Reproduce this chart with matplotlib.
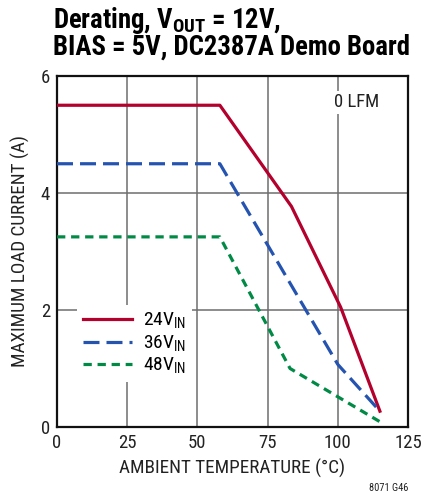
import matplotlib
matplotlib.use("Agg")
import matplotlib.pyplot as plt

plt.rcParams['font.family'] = ['Roboto Condensed', 'Archivo Narrow', 'DejaVu Sans']
plt.rcParams['mathtext.fontset'] = 'custom'
plt.rcParams['mathtext.rm'] = 'Roboto Condensed'
plt.rcParams['mathtext.bf'] = 'Roboto Condensed:bold'

# data
temp_24 = [0, 58, 83.5, 101, 115]
iout_24 = [5.5, 5.5, 3.77, 2.05, 0.27]
temp_36 = [0, 58, 100, 115]
iout_36 = [4.5, 4.5, 1.07, 0.27]
temp_48 = [0, 58, 83, 115]
iout_48 = [3.25, 3.25, 1.0, 0.09]
labels = [r'24V$_{\mathregular{IN}}$', r'36V$_{\mathregular{IN}}$', r'48V$_{\mathregular{IN}}$']

red = '#b3002d'
blue = '#2453b0'
green = '#008a46'

fig = plt.figure(figsize=(4.23, 4.99), dpi=100)
ax = fig.add_axes([0.1348, 0.1443, 0.8297, 0.7034])

ax.plot(temp_24, iout_24, color=red, lw=2.3, label=labels[0], zorder=3)
ax.plot(temp_36, iout_36, color=blue, lw=2.3, dashes=(5, 2.2), label=labels[1], zorder=3)
ax.plot(temp_48, iout_48, color=green, lw=2.3, dashes=(2.6, 1.8), label=labels[2], zorder=3)

ax.set_xlim(0, 125)
ax.set_ylim(0, 6)
ax.set_xticks([0, 25, 50, 75, 100, 125])
ax.set_yticks([0, 2, 4, 6])
ax.grid(True, color='#6e6e6e', lw=1.1, zorder=0)
ax.set_axisbelow(True)
ax.tick_params(length=0, labelsize=13.5, pad=5, colors='#222222')
for s in ax.spines.values():
    s.set_linewidth(1.6)
    s.set_color('#111111')

ax.set_xlabel('AMBIENT TEMPERATURE (°C)', fontsize=13.8, color='#222222', labelpad=5)
ax.set_ylabel('MAXIMUM LOAD CURRENT (A)', fontsize=13.8, color='#222222', labelpad=8)

leg = ax.legend(loc='upper left', bbox_to_anchor=(0.03, 0.375), fontsize=14,
                frameon=True, facecolor='white', edgecolor='none', framealpha=1,
                handlelength=2.5, handletextpad=0.6, labelspacing=0.12,
                borderpad=0.3, fancybox=False)
leg.set_zorder(2)

ax.text(0.855, 0.925, '0 LFM', transform=ax.transAxes, fontsize=13.5, color='#222222',
        ha='center', va='center', zorder=2,
        bbox=dict(facecolor='white', edgecolor='none', pad=2))

fig.text(0.125, 0.958, r'Derating, V$_{\mathbf{OUT}}$ = 12V,', fontsize=19.3,
         fontweight='bold', ha='left', va='center')
fig.text(0.125, 0.905, 'BIAS = 5V, DC2387A Demo Board', fontsize=19.3,
         fontweight='bold', ha='left', va='center')
fig.text(0.965, 0.022, '8071 G46', fontsize=7.5, color='#222222', ha='right', va='center')

fig.savefig('out.png', dpi=100)
